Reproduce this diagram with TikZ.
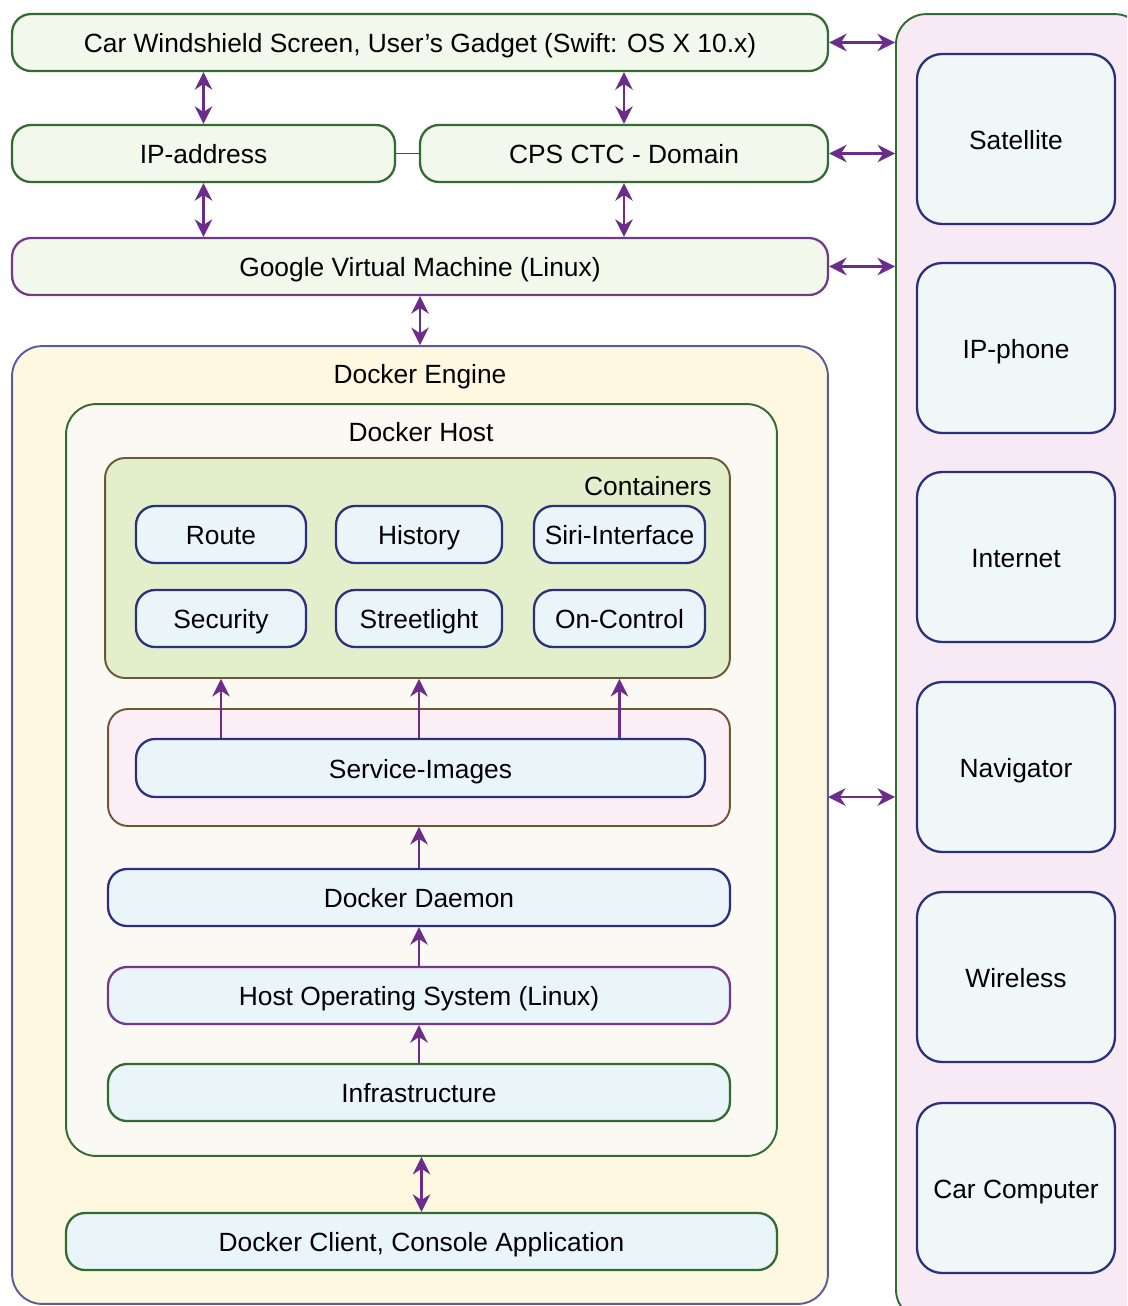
\documentclass[tikz,border=0pt]{standalone}
\usepackage{fontspec}
\setmainfont{Liberation Sans}
\usetikzlibrary{arrows.meta, positioning, calc}
\definecolor{edgeGreen}{HTML}{336B33}
\definecolor{edgePurple}{HTML}{743A8A}
\definecolor{edgeNavy}{HTML}{2B2F7C}
\definecolor{edgeBrown}{HTML}{6E5636}
\definecolor{edgeSlate}{HTML}{5C5C9C}
\definecolor{arrowcol}{HTML}{6B2C8A}
\definecolor{fillGreen}{HTML}{F2F8EC}
\definecolor{fillYellow}{HTML}{FEF8E0}
\definecolor{fillHost}{HTML}{FAF9F4}
\definecolor{fillCont}{HTML}{E3EFCA}
\definecolor{fillBlue}{HTML}{EAF5FA}
\definecolor{fillPink}{HTML}{FCF0F6}
\definecolor{fillPanel}{HTML}{F7EAF4}
\definecolor{fillDevice}{HTML}{EFF7F7}
\begin{document}
\begin{tikzpicture}[
  x=0.02cm, y=-0.02cm,
  every node/.style={font=\fontsize{15}{18}\selectfont, inner sep=0pt},
  box/.style={draw, line width=1.3pt, rounded corners=0.38cm, minimum height=1.14cm, align=center, text height=14.4pt, text depth=3pt},
  topbox/.style={box, draw=edgeGreen, fill=fillGreen},
  svc/.style={box, draw=edgeNavy, fill=fillBlue},
  frame/.style={draw, line width=1.1pt, rounded corners=0.6cm},
  device/.style={box, draw=edgeNavy, fill=fillDevice, minimum width=3.96cm, minimum height=3.4cm, rounded corners=0.5cm},
  dbl/.style={{Stealth[length=10pt,width=10pt]}-{Stealth[length=10pt,width=10pt]}, arrowcol, line width=1.3pt},
  up/.style={-{Stealth[length=10pt,width=10pt]}, arrowcol, line width=1.3pt}
]
\path[use as bounding box, clip] (0,0) rectangle (1127,1306);

% Outer frames
\node[frame, draw=edgeGreen, fill=fillPanel, minimum width=4.98cm, minimum height=26.12cm] (panel) at (1020.5,667) {};
\node[frame, draw=edgeSlate, fill=fillYellow, minimum width=16.32cm, minimum height=19.16cm] (engine) at (420,825) {};
\node[frame, draw=edgeGreen, fill=fillHost, minimum width=14.22cm, minimum height=15.04cm] (host) at (421.5,780) {};
\node[frame, draw=edgeBrown, fill=fillCont, minimum width=12.5cm, minimum height=4.4cm, rounded corners=0.4cm] (containers) at (417.5,568) {};
\node[frame, draw=edgeBrown, fill=fillPink, minimum width=12.44cm, minimum height=2.34cm, rounded corners=0.4cm] (svcouter) at (419,767.5) {};

\node (enginelbl) at (420,377) {Docker Engine};
\node (hostlbl) at (421,432) {Docker Host};
\node[anchor=east] (contlbl) at (712,486) {Containers};

% Top layer
\node[topbox, minimum width=16.32cm] (windshield) at (420,42.5) {Car Windshield Screen, User’s Gadget (Swift: OS X 10.x)};
\node[topbox, minimum width=7.66cm] (ipaddr) at (203.5,153.5) {IP-address};
\node[topbox, minimum width=8.16cm] (cps) at (624,153.5) {CPS CTC - Domain};
\node[box, draw=edgePurple, fill=fillGreen, minimum width=16.32cm] (gvm) at (420,266.5) {Google Virtual Machine (Linux)};

\draw[arrowcol, line width=1.1pt] (ipaddr) -- (cps);
\draw[dbl] (ipaddr.north |- windshield.south) -- (ipaddr.north);
\draw[dbl] (ipaddr.south) -- (ipaddr.south |- gvm.north);
\draw[dbl] (cps.north |- windshield.south) -- (cps.north);
\draw[dbl] (cps.south) -- (cps.south |- gvm.north);
\draw[dbl] (gvm.south) -- (gvm.south |- engine.north);

% Containers
\node[svc, minimum width=3.4cm] (route) at (221,534.5) {Route};
\node[svc, minimum width=3.32cm] (history) at (419,534.5) {History};
\node[svc, minimum width=3.42cm] (siri) at (619.5,534.5) {Siri-Interface};
\node[svc, minimum width=3.4cm] (security) at (221,618.5) {Security};
\node[svc, minimum width=3.32cm] (streetlight) at (419,618.5) {Streetlight};
\node[svc, minimum width=3.42cm] (oncontrol) at (619.5,618.5) {On-Control};

% Host stack
\node[svc, minimum width=11.38cm, minimum height=1.16cm] (images) at (420.5,768) {Service-Images};
\node[svc, minimum width=12.44cm] (daemon) at (419,897.5) {Docker Daemon};
\node[box, draw=edgePurple, fill=fillBlue, minimum width=12.44cm] (hostos) at (419,995.5) {Host Operating System (Linux)};
\node[box, draw=edgeGreen, fill=fillBlue, minimum width=12.44cm] (infra) at (419,1092.5) {Infrastructure};
\node[box, draw=edgeGreen, fill=fillBlue, minimum width=14.22cm] (client) at (421.5,1241.5) {Docker Client, Console Application};

\foreach \c in {security, streetlight, oncontrol}
  \draw[up] (\c |- images.north) -- (\c |- containers.south);
\draw[up] (daemon.north) -- (daemon.north |- svcouter.south);
\draw[up] (hostos.north) -- (daemon.south);
\draw[up] (infra.north) -- (hostos.south);
\draw[dbl] (host.south) -- (host.south |- client.north);

% Devices
\node[device] (satellite) at (1016,139) {Satellite};
\node[device] (ipphone) at (1016,348) {IP-phone};
\node[device] (internet) at (1016,557) {Internet};
\node[device] (navigator) at (1016,767) {Navigator};
\node[device] (wireless) at (1016,977) {Wireless};
\node[device] (carcomp) at (1016,1188) {Car Computer};

\coordinate (englink) at (828,797);
\draw[dbl] (windshield.east) -- (windshield.east -| panel.west);
\draw[dbl] (cps.east) -- (cps.east -| panel.west);
\draw[dbl] (gvm.east) -- (gvm.east -| panel.west);
\draw[dbl] (englink) -- (englink -| panel.west);
\end{tikzpicture}
\end{document}
